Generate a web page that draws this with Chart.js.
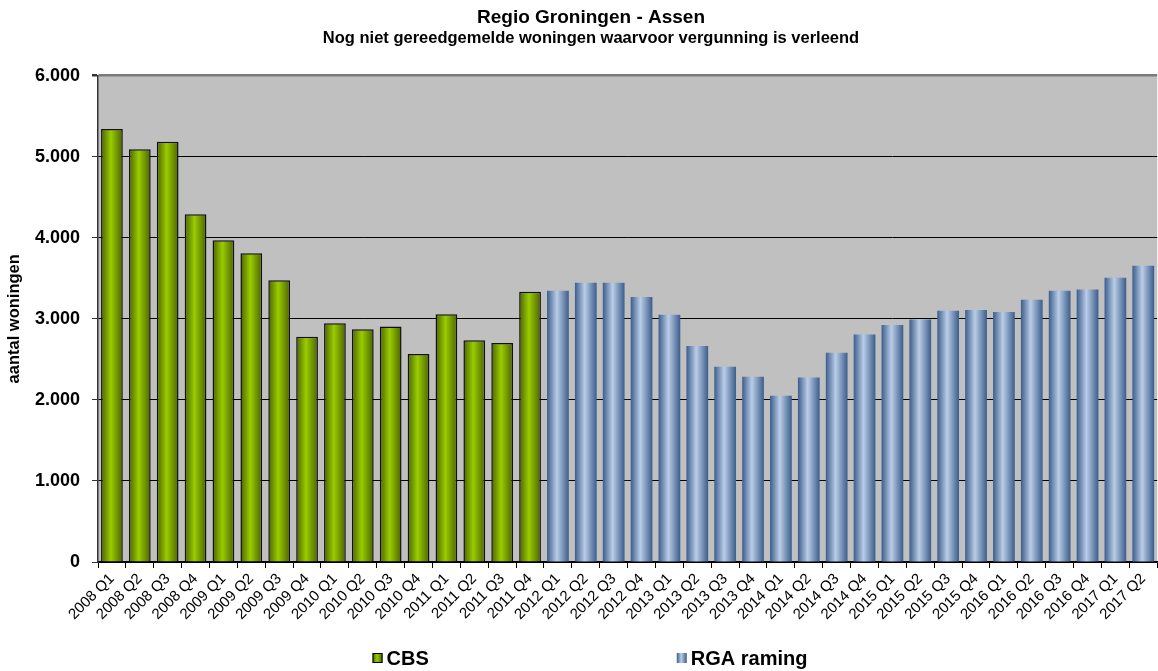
<!DOCTYPE html>
<html>
<head>
<meta charset="utf-8">
<script src="https://cdn.jsdelivr.net/npm/chart.js@4/dist/chart.umd.min.js"></script>
<style>
  html, body { margin: 0; padding: 0; background: #fff; }
  #wrap { width: 1158px; height: 671px; }
</style>
</head>
<body>
<div id="wrap"><canvas id="bar_chart_canvas" width="1158" height="671"></canvas></div>
<script>
// quarters on the x axis
const categories = [
    "2008 Q1", "2008 Q2", "2008 Q3", "2008 Q4",
    "2009 Q1", "2009 Q2", "2009 Q3", "2009 Q4",
    "2010 Q1", "2010 Q2", "2010 Q3", "2010 Q4",
    "2011 Q1", "2011 Q2", "2011 Q3", "2011 Q4",
    "2012 Q1", "2012 Q2", "2012 Q3", "2012 Q4",
    "2013 Q1", "2013 Q2", "2013 Q3", "2013 Q4",
    "2014 Q1", "2014 Q2", "2014 Q3", "2014 Q4",
    "2015 Q1", "2015 Q2", "2015 Q3", "2015 Q4",
    "2016 Q1", "2016 Q2", "2016 Q3", "2016 Q4",
    "2017 Q1", "2017 Q2"
];
// CBS: 2008 Q1 - 2011 Q4
const cbsValues = [5340, 5090, 5185, 4290, 3970, 3810, 3475, 2780,
                   2945, 2870, 2905, 2565, 3055, 2735, 2700, 3335];
// RGA raming: 2012 Q1 - 2017 Q2
const rgaValues = [3345, 3445, 3445, 3270, 3050, 2665, 2410, 2285,
                   2050, 2275, 2580, 2805, 2925, 2990, 3100, 3110,
                   3085, 3235, 3345, 3360, 3505, 3655];
const yTicks = [0, 1000, 2000, 3000, 4000, 5000, 6000];
const seriesNames = ["CBS", "RGA raming"];

const cbsData = categories.map((c, i) => i < cbsValues.length ? cbsValues[i] : null);
const rgaData = categories.map((c, i) => i >= cbsValues.length ? rgaValues[i - cbsValues.length] : null);

const GREEN = { dark: "#4a6300", light: "#9acc00" };
const BLUE = { dark: "#3b5d8c", light: "#bacde6" };
const BAR_FRACTION = 0.78;

function barGradient(colors) {
    return function (context) {
        const chart = context.chart;
        const xScale = chart.scales && chart.scales.x;
        if (!chart.chartArea || !xScale || context.dataIndex === undefined) {
            return colors.light;
        }
        const center = xScale.getPixelForValue(context.dataIndex);
        const half = (xScale.width / categories.length) * BAR_FRACTION / 2;
        const g = chart.ctx.createLinearGradient(center - half, 0, center + half, 0);
        g.addColorStop(0, colors.dark);
        g.addColorStop(0.45, colors.light);
        g.addColorStop(1, colors.dark);
        return g;
    };
}

function formatThousands(v) {
    return String(v).replace(/\B(?=(\d{3})+(?!\d))/g, ".");
}

const plotBackground = {
    id: "plotBackground",
    beforeDraw(chart) {
        const a = chart.chartArea;
        const ctx = chart.ctx;
        ctx.save();
        ctx.fillStyle = "#c0c0c0";
        ctx.fillRect(a.left, a.top, a.right - a.left, a.bottom - a.top);
        ctx.restore();
    }
};

const bottomLegend = {
    id: "bottomLegend",
    afterDraw(chart) {
        const ctx = chart.ctx;
        const items = [
            { text: seriesNames[0], colors: GREEN, border: true },
            { text: seriesNames[1], colors: BLUE, border: false }
        ];
        const box = 10, textGap = 4, itemGap = 248;
        ctx.save();
        ctx.font = "bold 20px 'Liberation Sans', Arial, sans-serif";
        ctx.textBaseline = "middle";
        ctx.textAlign = "left";
        let total = 0;
        items.forEach((it, i) => {
            it.w = ctx.measureText(it.text).width;
            total += box + textGap + it.w + (i < items.length - 1 ? itemGap : 0);
        });
        const y = 658;
        let x = 590 - total / 2;
        items.forEach(it => {
            const g = ctx.createLinearGradient(x, 0, x + box, 0);
            g.addColorStop(0, it.colors.dark);
            g.addColorStop(0.45, it.colors.light);
            g.addColorStop(1, it.colors.dark);
            ctx.fillStyle = g;
            ctx.fillRect(x, y - box / 2, box, box);
            if (it.border) {
                ctx.strokeStyle = "#000";
                ctx.lineWidth = 1;
                ctx.strokeRect(x + 0.5, y - box / 2 + 0.5, box - 1, box - 1);
            }
            ctx.fillStyle = "#000";
            ctx.fillText(it.text, x + box + textGap, y + 1);
            x += box + textGap + it.w + itemGap;
        });
        ctx.restore();
    }
};

new Chart(document.getElementById("bar_chart_canvas").getContext("2d"), {
    type: "bar",
    data: {
        labels: categories,
        datasets: [
            {
                label: seriesNames[0],
                data: cbsData,
                backgroundColor: barGradient(GREEN),
                borderColor: "#111",
                borderWidth: 1.5,
                grouped: false,
                categoryPercentage: 1,
                barPercentage: BAR_FRACTION
            }, {
                label: seriesNames[1],
                data: rgaData,
                backgroundColor: barGradient(BLUE),
                borderWidth: 0,
                grouped: false,
                categoryPercentage: 1,
                barPercentage: BAR_FRACTION
            }
        ]
    },
    options: {
        responsive: false,
        animation: false,
        layout: { padding: { left: 24, right: 0, top: 0, bottom: 0 } },
        plugins: {
            legend: { display: false },
            tooltip: { enabled: false },
            title: {
                display: true,
                text: "Regio Groningen - Assen",
                color: "#000",
                font: { family: "'Liberation Sans', Arial, sans-serif", size: 19, weight: "bold", lineHeight: 1.2 },
                padding: { top: 6, bottom: 0 }
            },
            subtitle: {
                display: true,
                text: "Nog niet gereedgemelde woningen waarvoor vergunning is verleend",
                color: "#000",
                font: { family: "'Liberation Sans', Arial, sans-serif", size: 16.5, weight: "bold", lineHeight: 1.2 },
                padding: { top: 0, bottom: 27 }
            }
        },
        scales: {
            x: {
                offset: true,
                afterFit: function (scale) { scale.height = 109; },
                border: { display: true, color: "#000", width: 1.5 },
                grid: {
                    display: true,
                    offset: true,
                    drawOnChartArea: false,
                    drawTicks: true,
                    tickLength: 6,
                    color: "#000"
                },
                ticks: {
                    autoSkip: false,
                    minRotation: 45,
                    maxRotation: 45,
                    padding: 2,
                    color: "#000",
                    font: { family: "'Liberation Sans', Arial, sans-serif", size: 15 }
                }
            },
            y: {
                min: yTicks[0],
                max: yTicks[yTicks.length - 1],
                afterFit: function (scale) { scale.width = 74; },
                afterBuildTicks: function (scale) {
                    scale.ticks = yTicks.map(v => ({ value: v }));
                },
                border: { display: true, color: "#333", width: 1.5 },
                grid: {
                    drawTicks: true,
                    tickLength: 6,
                    color: ctx => (ctx.tick && ctx.tick.value === 6000) ? "#7a7a7a" : "#000",
                    lineWidth: ctx => (ctx.tick && ctx.tick.value === 6000) ? 2.5 : 1,
                    tickColor: "#333"
                },
                ticks: {
                    padding: 12,
                    color: "#000",
                    font: { family: "'Liberation Sans', Arial, sans-serif", size: 18, weight: "bold" },
                    callback: v => formatThousands(v)
                },
                title: {
                    display: true,
                    text: "aantal woningen",
                    color: "#000",
                    font: { family: "'Liberation Sans', Arial, sans-serif", size: 16.5, weight: "bold", lineHeight: 1.2 },
                    padding: { top: -19, bottom: 0 }
                }
            }
        }
    },
    plugins: [plotBackground, bottomLegend]
});
</script>
</body>
</html>
